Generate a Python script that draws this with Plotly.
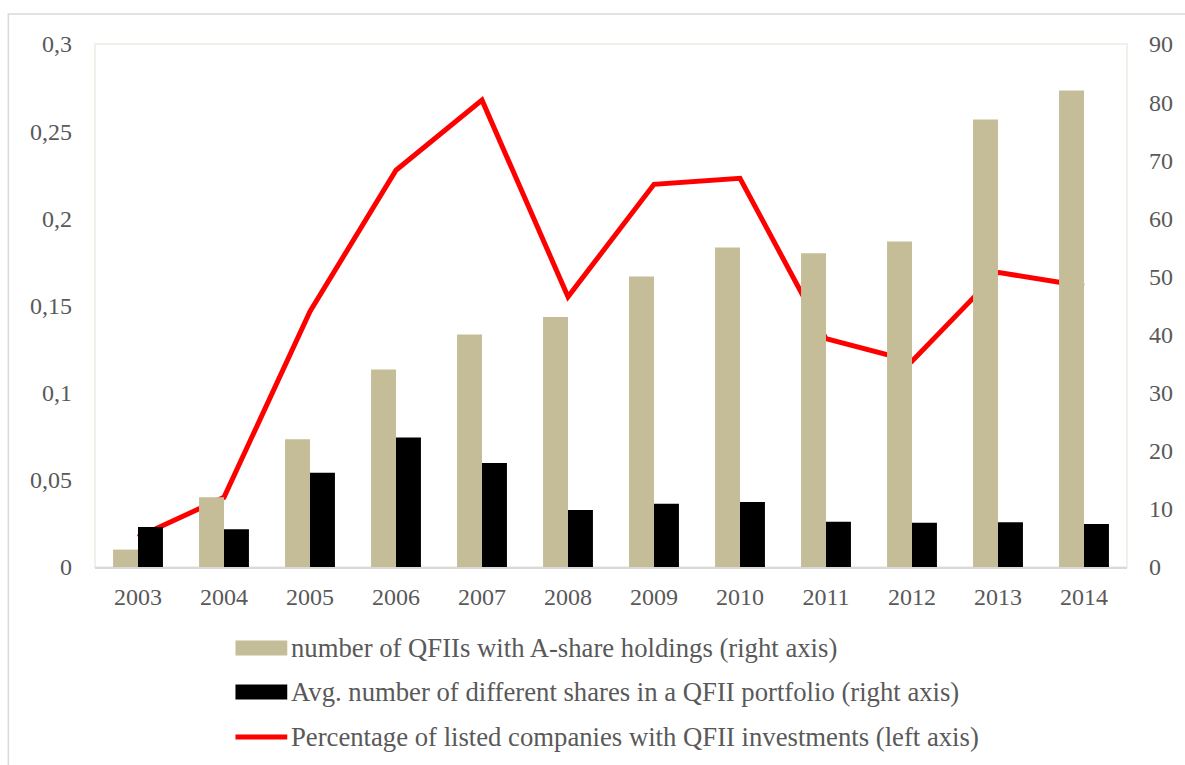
import plotly.graph_objects as go

years = ["2003", "2004", "2005", "2006", "2007", "2008", "2009", "2010", "2011", "2012", "2013", "2014"]
num_qfii = [3, 12, 22, 34, 40, 43, 50, 55, 54, 56, 77, 82]
avg_shares = [6.9, 6.5, 16.2, 22.3, 17.9, 9.8, 10.9, 11.2, 7.8, 7.6, 7.7, 7.4]
pct_listed = [0.0172, 0.040, 0.1466, 0.2276, 0.2678, 0.155, 0.2195, 0.223, 0.131, 0.118, 0.169, 0.161]

names = [
    "number of QFIIs with A-share holdings (right axis)",
    "Avg. number of different shares in a QFII portfolio (right axis)",
    "Percentage of listed companies with QFII investments (left axis)",
]
TAN = "#C4BD97"
RED = "#FF0000"
FONT = "Liberation Serif, Times New Roman, serif"
TICK_COLOR = "#595959"
TICK_SIZE = 24
LEG_SIZE = 26.7

W, H = 1185, 765
L, R, T, B = 95, 54, 44, 198
pw, ph = W - L - R, H - T - B

def px_x(x):
    return (x - L) / pw

def px_y(y):
    return (H - B - y) / ph

fig = go.Figure()
fig.add_trace(go.Bar(x=years, y=num_qfii, name=names[0], marker=dict(color=TAN, line=dict(width=0)),
                     yaxis="y2", showlegend=False))
fig.add_trace(go.Bar(x=years, y=avg_shares, name=names[1], marker=dict(color="#000000", line=dict(width=0)),
                     yaxis="y2", showlegend=False))
fig.add_trace(go.Scatter(x=years, y=pct_listed, name=names[2], mode="lines",
                         line=dict(color=RED, width=5), yaxis="y", showlegend=False))

shapes = [
    dict(type="rect", xref="paper", yref="paper", x0=0, x1=1, y0=0, y1=1,
         line=dict(color="#EEECE1", width=1.5), layer="below"),
    dict(type="rect", xref="paper", yref="paper", x0=px_x(8), x1=px_x(1195), y0=px_y(780), y1=px_y(14),
         line=dict(color="#D9D9D9", width=1.5), layer="below"),
]
annotations = []
rows = [648, 692, 737]
for i, yc in enumerate(rows):
    if i < 2:
        color = TAN if i == 0 else "#000000"
        shapes.append(dict(type="rect", xref="paper", yref="paper",
                           x0=px_x(236), x1=px_x(288), y0=px_y(yc + 7.5), y1=px_y(yc - 7.5),
                           fillcolor=color, line=dict(width=0)))
    else:
        shapes.append(dict(type="line", xref="paper", yref="paper",
                           x0=px_x(236), x1=px_x(288), y0=px_y(yc), y1=px_y(yc),
                           line=dict(color=RED, width=5)))
    annotations.append(dict(xref="paper", yref="paper", x=px_x(290), y=px_y(yc), xanchor="left",
                            yanchor="middle", text=names[i], showarrow=False,
                            font=dict(family=FONT, size=LEG_SIZE, color=TICK_COLOR)))

fig.update_layout(
    width=W, height=H,
    margin=dict(l=L, r=R, t=T, b=B),
    paper_bgcolor="white", plot_bgcolor="white",
    separators=", ",
    barmode="group", bargap=0.42, bargroupgap=0,
    showlegend=False,
    font=dict(family=FONT, size=TICK_SIZE, color=TICK_COLOR),
    xaxis=dict(showgrid=False, showline=True, linecolor="#D9D9D9", linewidth=1.5,
               ticks="", tickfont=dict(family=FONT, size=TICK_SIZE, color=TICK_COLOR),
               ticklabelstandoff=7),
    yaxis=dict(range=[0, 0.3], dtick=0.05, showgrid=False, zeroline=False, showline=False,
               ticks="", tickfont=dict(family=FONT, size=TICK_SIZE, color=TICK_COLOR),
               ticklabelstandoff=22),
    yaxis2=dict(range=[0, 90], dtick=10, overlaying="y", side="right", showgrid=False,
                zeroline=False, showline=False, ticks="",
                tickfont=dict(family=FONT, size=TICK_SIZE, color=TICK_COLOR), ticklabelstandoff=21),
    shapes=shapes,
    annotations=annotations,
)

fig.write_html("out.html", config={"displayModeBar": False},
               post_script="document.body.style.margin='0';document.body.style.overflow='hidden';")
